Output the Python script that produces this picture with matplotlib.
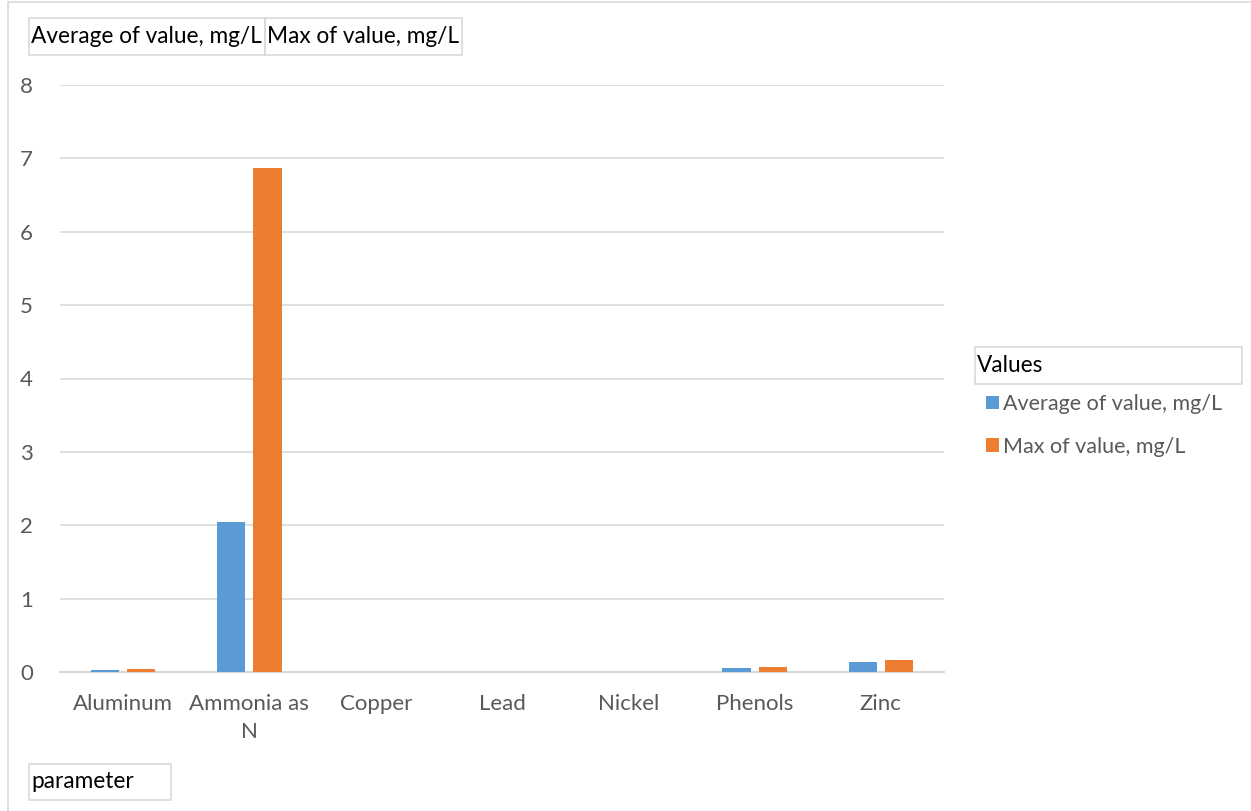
import numpy as np
import matplotlib.pyplot as plt
from matplotlib.patches import Rectangle

# pivot table: parameter vs average / max concentration
parameters = ['Aluminum', 'Ammonia as\nN', 'Copper', 'Lead', 'Nickel', 'Phenols', 'Zinc']
avg_value = [0.025, 2.04, 0.002, 0.001, 0.002, 0.05, 0.135]
max_value = [0.04, 6.87, 0.003, 0.002, 0.003, 0.065, 0.16]
series_names = ['Average of value, mg/L', 'Max of value, mg/L']

blue = '#5B9BD5'
orange = '#ED7D31'
grey_text = '#595959'
grid_col = '#D9D9D9'

plt.rcParams['font.family'] = ['Lato', 'DejaVu Sans']

W, H = 1251, 811
fig = plt.figure(figsize=(W / 100, H / 100), dpi=100)

def px(x0, y0, x1, y1):
    # pixel box (top-left origin) -> figure fraction [left, bottom, width, height]
    return [x0 / W, 1 - y1 / H, (x1 - x0) / W, (y1 - y0) / H]

ax = fig.add_axes(px(60, 85, 944, 672))

x = np.arange(len(parameters))
bw = 0.222
ax.bar(x - 0.143, avg_value, bw, color=blue, label=series_names[0], zorder=3)
ax.bar(x + 0.143, max_value, bw, color=orange, label=series_names[1], zorder=3)

ax.set_xlim(-0.5, len(parameters) - 0.5)
ax.set_ylim(0, 8)
ax.set_yticks(range(0, 9))
ax.set_xticks(x)
ax.set_xticklabels(parameters, linespacing=1.5)
ax.yaxis.grid(True, color=grid_col, linewidth=1.2, zorder=0)
for s in ['top', 'right', 'left']:
    ax.spines[s].set_visible(False)
ax.spines['bottom'].set_color(grid_col)
ax.spines['bottom'].set_linewidth(1.5)
ax.tick_params(axis='both', length=0, labelsize=16, colors=grey_text)
ax.tick_params(axis='y', pad=24)
ax.tick_params(axis='x', pad=16)
for lbl in ax.get_yticklabels():
    lbl.set_horizontalalignment('center')

# chart border (left and top edges visible)
fig.add_artist(Rectangle((8 / W, -0.1), 1.1, 1 - 2 / H + 0.1, transform=fig.transFigure,
                         fill=False, edgecolor='#D9D9D9', linewidth=1.2))

# field buttons
def field_button(x0, y0, x1, y1, label):
    fig.add_artist(Rectangle((x0 / W, 1 - y1 / H), (x1 - x0) / W, (y1 - y0) / H,
                             transform=fig.transFigure, fill=False,
                             edgecolor='#D9D9D9', linewidth=1.2))
    fig.text((x0 + 2) / W, 1 - (y0 + y1) / 2 / H, label, fontsize=16.3,
             color='black', ha='left', va='center')

field_button(29, 18, 265, 55, series_names[0])
field_button(265, 18, 462, 55, series_names[1])
field_button(29, 764, 171, 800, 'parameter')
field_button(975, 347, 1242, 384, 'Values')

leg = ax.legend(loc='upper left', bbox_to_anchor=(986 / W, 1 - 394 / H),
                bbox_transform=fig.transFigure, frameon=False, fontsize=15.5,
                handlelength=0.6, handleheight=0.6, handletextpad=0.2,
                labelspacing=1.05, borderpad=0, borderaxespad=0)
for t in leg.get_texts():
    t.set_color(grey_text)

fig.savefig('out.png', dpi=100, facecolor='white')
